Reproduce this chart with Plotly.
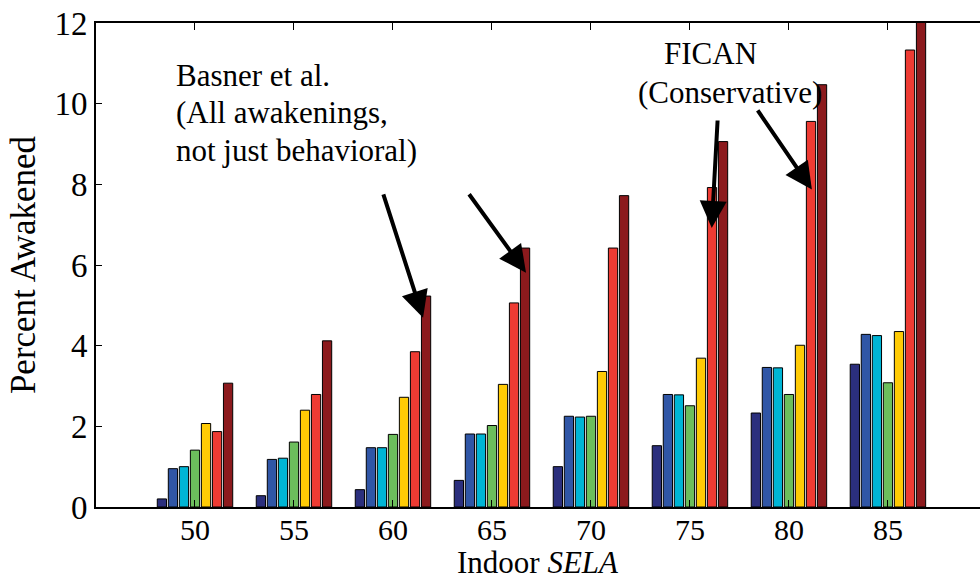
import plotly.graph_objects as go

# Indoor SELA levels (dB) on the x axis
sela = [50, 55, 60, 65, 70, 75, 80, 85]

# Percent awakened for each dose-response curve
series_names = ["Curve 1", "Curve 2", "Curve 3", "Curve 4", "Curve 5",
                "Basner et al.", "FICAN"]
navy = [0.20, 0.28, 0.43, 0.66, 1.00, 1.52, 2.33, 3.54]
blue = [0.95, 1.18, 1.47, 1.81, 2.25, 2.79, 3.46, 4.28]
cyan = [1.00, 1.21, 1.47, 1.81, 2.23, 2.78, 3.45, 4.25]
green = [1.41, 1.61, 1.80, 2.02, 2.25, 2.51, 2.79, 3.08]
yellow = [2.07, 2.40, 2.72, 3.04, 3.36, 3.69, 4.01, 4.35]
red = [1.87, 2.79, 3.85, 5.06, 6.42, 7.92, 9.56, 11.33]
darkred = [3.07, 4.12, 5.23, 6.42, 7.72, 9.06, 10.47, 12.10]

values = [navy, blue, cyan, green, yellow, red, darkred]
colors = ["#2b2f7d", "#3056a6", "#00b5d5", "#6cbe5c", "#ffcb05",
          "#ee3b33", "#8c1a1d"]

SERIF = "'Times New Roman', 'Liberation Serif', serif"

fig = go.Figure()
for name, vals, col in zip(series_names, values, colors):
    fig.add_trace(go.Bar(
        x=sela, y=vals, name=name,
        marker=dict(color=col, line=dict(color="black", width=1)),
    ))

# Annotation arrows: (tail x, tail y, tip x, tip y) in data units
arrows = [
    (59.49, 7.79, 61.52, 4.69),
    (63.79, 7.79, 66.72, 5.81),
    (76.40, 9.62, 76.10, 6.92),
    (78.37, 9.87, 81.16, 7.87),
]
annotations = []
for ax_, ay_, x_, y_ in arrows:
    annotations.append(dict(
        x=x_, y=y_, ax=ax_, ay=ay_, xref="x", yref="y", axref="x", ayref="y",
        text="", showarrow=True, arrowhead=2, arrowsize=1.35, arrowwidth=4,
        arrowcolor="black", standoff=0,
    ))

basner_lines = ["Basner et al.", "(All awakenings,", "not just behavioral)"]
basner_y = [10.71, 9.79, 8.85]
for line, yy in zip(basner_lines, basner_y):
    annotations.append(dict(
        x=48.95, y=yy, xref="x", yref="y", text=line, showarrow=False,
        xanchor="left", yanchor="middle",
        font=dict(family=SERIF, size=31, color="black"),
    ))

annotations.append(dict(
    x=76.06, y=11.25, xref="x", yref="y", text="FICAN", showarrow=False,
    xanchor="center", yanchor="middle",
    font=dict(family=SERIF, size=31, color="black"),
))
annotations.append(dict(
    x=77.0, y=10.28, xref="x", yref="y", text="(Conservative)", showarrow=False,
    xanchor="center", yanchor="middle",
    font=dict(family=SERIF, size=31, color="black"),
))

# x-axis title, resting on the bottom edge of the page
annotations.append(dict(
    x=0.5, y=0, xref="paper", yref="paper", yanchor="bottom", xanchor="center",
    yshift=-75, text="Indoor <i>SELA</i>", showarrow=False,
    font=dict(family=SERIF, size=31, color="black"),
))

fig.update_layout(
    width=980, height=581,
    margin=dict(l=96, r=0, t=23, b=74),
    paper_bgcolor="white", plot_bgcolor="white",
    barmode="group", bargap=0.22, bargroupgap=0.16,
    showlegend=False,
    font=dict(family=SERIF, size=33, color="black"),
    annotations=annotations,
    xaxis=dict(
        range=[45, 89.65], tickmode="array", tickvals=sela,
        ticktext=[str(v) for v in sela],
        showline=True, linecolor="black", linewidth=2, mirror="ticks",
        ticks="inside", ticklen=7, tickcolor="black", tickwidth=1,
        showgrid=False, zeroline=False, ticklabelstandoff=-5,
        tickfont=dict(family=SERIF, size=30),
    ),
    yaxis=dict(
        range=[0, 12], tickmode="array", tickvals=[0, 2, 4, 6, 8, 10, 12],
        showline=True, linecolor="black", linewidth=2, mirror=False,
        ticks="inside", ticklen=6, tickcolor="black", tickwidth=1,
        showgrid=False, zeroline=False, ticklabelstandoff=0,
        tickfont=dict(family=SERIF, size=33),
        title=dict(text="Percent Awakened", font=dict(family=SERIF, size=35),
                   standoff=8),
    ),
)

fig.write_html("out.html")
